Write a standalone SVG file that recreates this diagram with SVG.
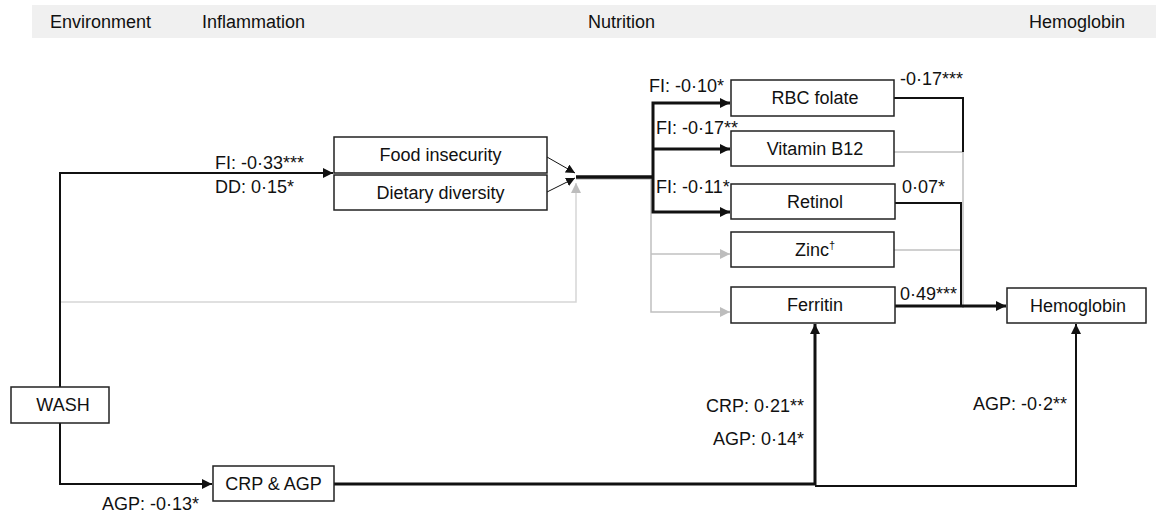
<svg xmlns="http://www.w3.org/2000/svg" width="1156" height="515" viewBox="0 0 1156 515">
<defs>
<style>
text{font-family:"Liberation Sans",Arial,sans-serif;font-size:18px;fill:#111}
.hdr{font-size:18px}
.box{fill:#fff;stroke:#222;stroke-width:1.5}
.lbl{text-anchor:middle}
.k{fill:none;stroke:#111;stroke-width:2}
.kt{fill:none;stroke:#111;stroke-width:3}
.kx{fill:none;stroke:#111;stroke-width:3.5}
.kn{fill:none;stroke:#111;stroke-width:1}
.g{fill:none;stroke:#c0c0c0;stroke-width:1.5}
.gl{fill:none;stroke:#d6d6d6;stroke-width:1.5}
</style>
<marker id="ak" viewBox="0 0 10 10" refX="10" refY="5" markerWidth="9" markerHeight="9" markerUnits="userSpaceOnUse" orient="auto"><path d="M0,0L10,5L0,10z" fill="#111"/></marker>
<marker id="akb" viewBox="0 0 10 10" refX="10" refY="5" markerWidth="10" markerHeight="10" markerUnits="userSpaceOnUse" orient="auto"><path d="M0,0L10,5L0,10z" fill="#111"/></marker>
<marker id="ag" viewBox="0 0 10 10" refX="10" refY="5" markerWidth="10" markerHeight="10" markerUnits="userSpaceOnUse" orient="auto"><path d="M0,0L10,5L0,10z" fill="#bdbdbd"/></marker>
</defs>
<g id="header">
<rect x="32" y="5" width="1124" height="33" fill="#f0f0f0"/>
<text class="hdr" x="50" y="28">Environment</text>
<text class="hdr" x="202" y="28">Inflammation</text>
<text class="hdr" x="588" y="28">Nutrition</text>
<text class="hdr" x="1029" y="28">Hemoglobin</text>
</g>
<g id="connectors">
<path class="gl" d="M60,302H576V183" marker-end="url(#ag)"/>
<path class="g" d="M576,179H651V312H730" marker-end="url(#ag)"/>
<path class="g" d="M651,254H730" marker-end="url(#ag)"/>
<path class="k" d="M60,387V173H333" marker-end="url(#akb)"/>
<path class="k" d="M60,423V484H212" marker-end="url(#akb)"/>
<path class="kn" d="M547,157L575,173" marker-end="url(#ak)"/>
<path class="kn" d="M547,192L575,178" marker-end="url(#ak)"/>
<path class="kx" d="M576,177H654"/>
<path class="kt" d="M653,177V103H730" marker-end="url(#akb)"/>
<path class="kt" d="M653,149H730" marker-end="url(#akb)"/>
<path class="kt" d="M653,177V212H730" marker-end="url(#akb)"/>
<path class="g" d="M894,152H963V308"/>
<path class="g" d="M894,250H961"/>
<path class="k" d="M894,98H963V152"/>
<path class="k" d="M895,203H961V306"/>
<path class="kt" d="M895,306H1006" marker-end="url(#akb)"/>
<path class="kt" d="M334,484H815V324" marker-end="url(#akb)"/>
<path class="k" d="M815,486H1076V324" marker-end="url(#akb)"/>
<text x="215" y="169">FI: -0·33***</text>
<text x="215" y="193">DD: 0·15*</text>
<text x="649" y="92">FI: -0·10*</text>
<text x="656" y="134">FI: -0·17**</text>
<text x="656" y="193">FI: -0·11*</text>
<text x="900" y="85">-0·17***</text>
<text x="902" y="193">0·07*</text>
<text x="900" y="300">0·49***</text>
<text x="804" y="412" text-anchor="end">CRP: 0·21**</text>
<text x="804" y="445" text-anchor="end">AGP: 0·14*</text>
<text x="1067" y="410" text-anchor="end">AGP: -0·2**</text>
<text x="102" y="510">AGP: -0·13*</text>
</g>
<g id="wash"><rect class="box" x="11" y="387" width="98" height="36"/><text class="lbl" x="63" y="411">WASH</text></g>
<g id="crp-agp"><rect class="box" x="213" y="466" width="121" height="35"/><text class="lbl" x="273.5" y="490">CRP &amp; AGP</text></g>
<g id="food-insecurity"><rect class="box" x="334" y="137" width="213" height="36"/><text class="lbl" x="440.5" y="161">Food insecurity</text></g>
<g id="dietary-diversity"><rect class="box" x="334" y="175" width="213" height="35"/><text class="lbl" x="440.5" y="199">Dietary diversity</text></g>
<g id="rbc-folate"><rect class="box" x="731" y="80" width="163" height="36"/><text class="lbl" x="815" y="104">RBC folate</text></g>
<g id="vitamin-b12"><rect class="box" x="731" y="131" width="163" height="35"/><text class="lbl" x="815" y="155">Vitamin B12</text></g>
<g id="retinol"><rect class="box" x="731" y="184" width="164" height="35"/><text class="lbl" x="815" y="208">Retinol</text></g>
<g id="zinc"><rect class="box" x="731" y="232" width="163" height="35"/><text class="lbl" x="815" y="256">Zinc<tspan font-size="11" dy="-7">†</tspan></text></g>
<g id="ferritin"><rect class="box" x="731" y="287" width="164" height="36"/><text class="lbl" x="815" y="311">Ferritin</text></g>
<g id="hemoglobin"><rect class="box" x="1007" y="288" width="139" height="35"/><text class="lbl" x="1078" y="312">Hemoglobin</text></g>
</svg>
